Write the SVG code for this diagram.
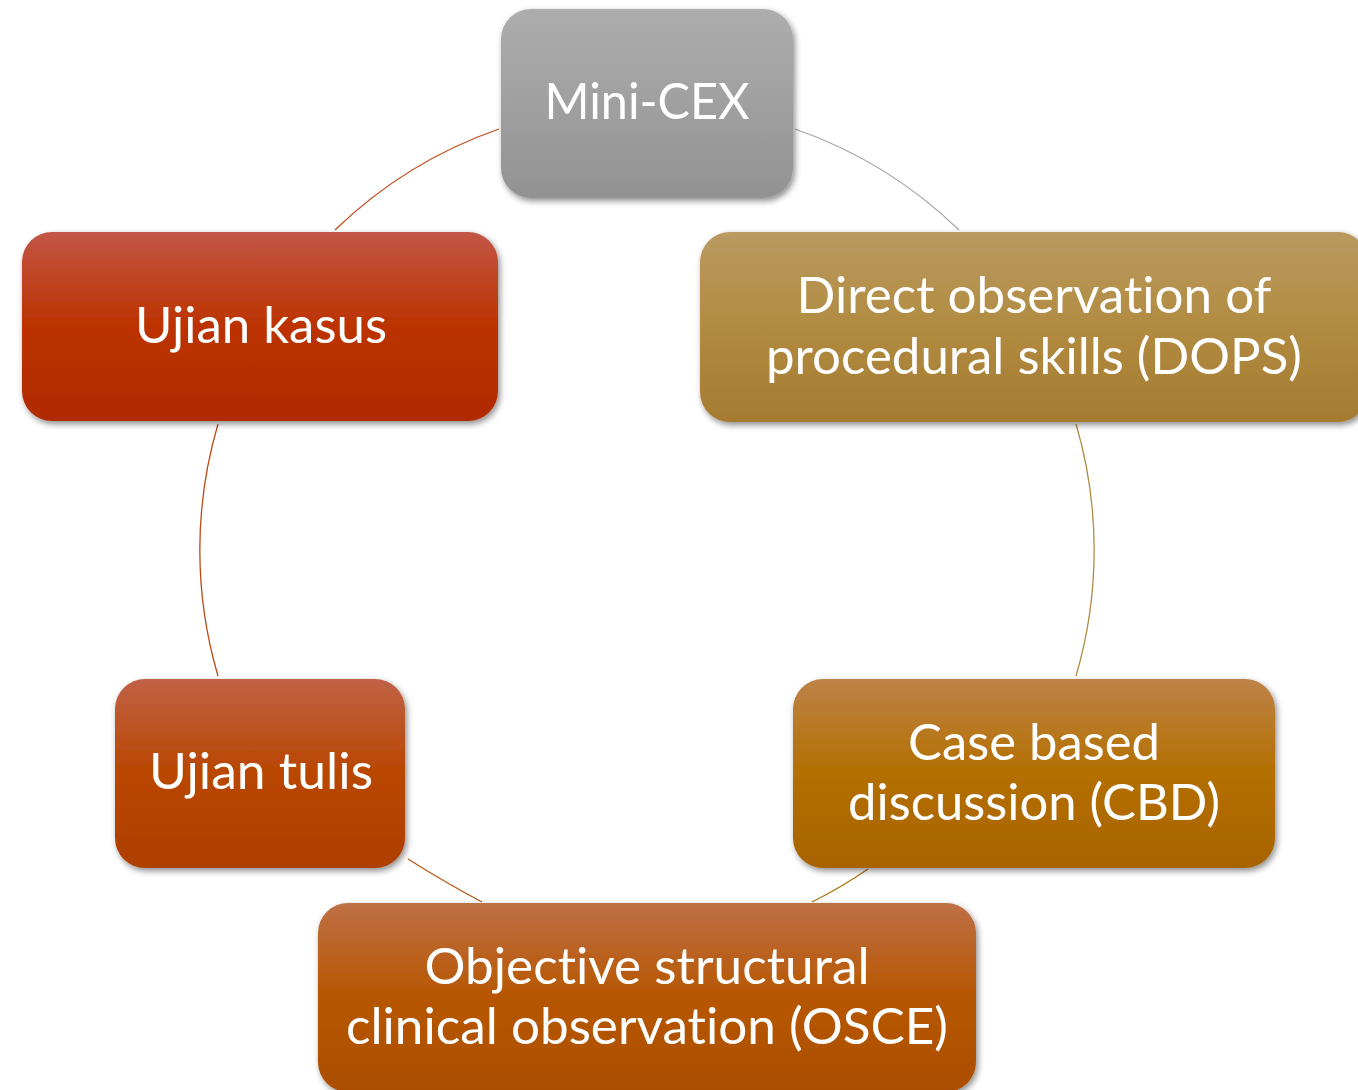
<svg xmlns="http://www.w3.org/2000/svg" width="1358" height="1090" viewBox="0 0 1358 1090">
  <style>
    .box { filter: url(#shadow); }
    .lbl { font-family: Lato, "Open Sans", "Liberation Sans", sans-serif; font-size: 50px; fill: #ffffff; text-anchor: middle; font-variant-ligatures: none; font-feature-settings: "liga" 0, "dlig" 0; }
    .arc { fill: none; stroke-width: 1.3; }
  </style>
  <defs>
    <filter id="shadow" x="-10%" y="-10%" width="125%" height="130%">
      <feDropShadow dx="2" dy="3" stdDeviation="3" flood-color="#000000" flood-opacity="0.45"/>
    </filter>
    <linearGradient id="gGray" x1="0" y1="0" x2="0" y2="1">
      <stop offset="0" stop-color="#adadad"/>
      <stop offset="0.5" stop-color="#a0a0a0"/>
      <stop offset="1" stop-color="#929292"/>
    </linearGradient>
    <linearGradient id="gDops" x1="0" y1="0" x2="0" y2="1">
      <stop offset="0" stop-color="#ba9a61"/>
      <stop offset="0.5" stop-color="#b18b40"/>
      <stop offset="1" stop-color="#a57b31"/>
    </linearGradient>
    <linearGradient id="gCbd" x1="0" y1="0" x2="0" y2="1">
      <stop offset="0" stop-color="#bd8247"/>
      <stop offset="0.5" stop-color="#b46f00"/>
      <stop offset="1" stop-color="#a86300"/>
    </linearGradient>
    <linearGradient id="gOsce" x1="0" y1="0" x2="0" y2="1">
      <stop offset="0" stop-color="#be7046"/>
      <stop offset="0.5" stop-color="#b75600"/>
      <stop offset="1" stop-color="#ab4e00"/>
    </linearGradient>
    <linearGradient id="gTulis" x1="0" y1="0" x2="0" y2="1">
      <stop offset="0" stop-color="#c06146"/>
      <stop offset="0.5" stop-color="#b94600"/>
      <stop offset="1" stop-color="#ae3f00"/>
    </linearGradient>
    <linearGradient id="gKasus" x1="0" y1="0" x2="0" y2="1">
      <stop offset="0" stop-color="#c25646"/>
      <stop offset="0.5" stop-color="#bc3300"/>
      <stop offset="1" stop-color="#b02a00"/>
    </linearGradient>
  </defs>

  <rect width="1358" height="1090" fill="#ffffff"/>

  <!-- cycle connectors -->
  <g id="connectors">
    <path class="arc" stroke="#a6a6a6" d="M795,129 A446,446 0 0,1 959,230"/>
    <path class="arc" stroke="#b08c44" d="M1076,424 A446,446 0 0,1 1076,676"/>
    <path class="arc" stroke="#b07416" d="M868,869 Q842,887 812,902"/>
    <path class="arc" stroke="#b5581a" d="M482,902 Q446,883 408,859"/>
    <path class="arc" stroke="#bb4a16" d="M218,676 A446,446 0 0,1 218,424"/>
    <path class="arc" stroke="#bf4a1c" d="M335,230 A446,446 0 0,1 499,129"/>
  </g>

  <g id="node-minicex">
    <rect class="box" x="501" y="9" width="292" height="189" rx="30" fill="url(#gGray)"/>
    <text class="lbl" x="647" y="119" textLength="205" lengthAdjust="spacingAndGlyphs">Mini-CEX</text>
  </g>

  <g id="node-dops">
    <rect class="box" x="700" y="232" width="668" height="190" rx="30" fill="url(#gDops)"/>
    <text class="lbl" x="1034" y="313" textLength="475" lengthAdjust="spacingAndGlyphs">Direct observation of</text>
    <text class="lbl" x="1034" y="374" textLength="536" lengthAdjust="spacingAndGlyphs">procedural skills (DOPS)</text>
  </g>

  <g id="node-cbd">
    <rect class="box" x="793" y="679" width="482" height="189" rx="30" fill="url(#gCbd)"/>
    <text class="lbl" x="1034" y="760" textLength="252" lengthAdjust="spacingAndGlyphs">Case based</text>
    <text class="lbl" x="1034" y="820" textLength="372" lengthAdjust="spacingAndGlyphs">discussion (CBD)</text>
  </g>

  <g id="node-osce">
    <rect class="box" x="318" y="903" width="658" height="189" rx="30" fill="url(#gOsce)"/>
    <text class="lbl" x="647" y="984" textLength="445" lengthAdjust="spacingAndGlyphs">Objective structural</text>
    <text class="lbl" x="647" y="1044" textLength="602" lengthAdjust="spacingAndGlyphs">clinical observation (OSCE)</text>
  </g>

  <g id="node-tulis">
    <rect class="box" x="115" y="679" width="290" height="189" rx="30" fill="url(#gTulis)"/>
    <text class="lbl" x="261" y="789" textLength="224" lengthAdjust="spacingAndGlyphs">Ujian tulis</text>
  </g>

  <g id="node-kasus">
    <rect class="box" x="22" y="232" width="476" height="189" rx="30" fill="url(#gKasus)"/>
    <text class="lbl" x="261" y="343" textLength="252" lengthAdjust="spacingAndGlyphs">Ujian kasus</text>
  </g>
</svg>
